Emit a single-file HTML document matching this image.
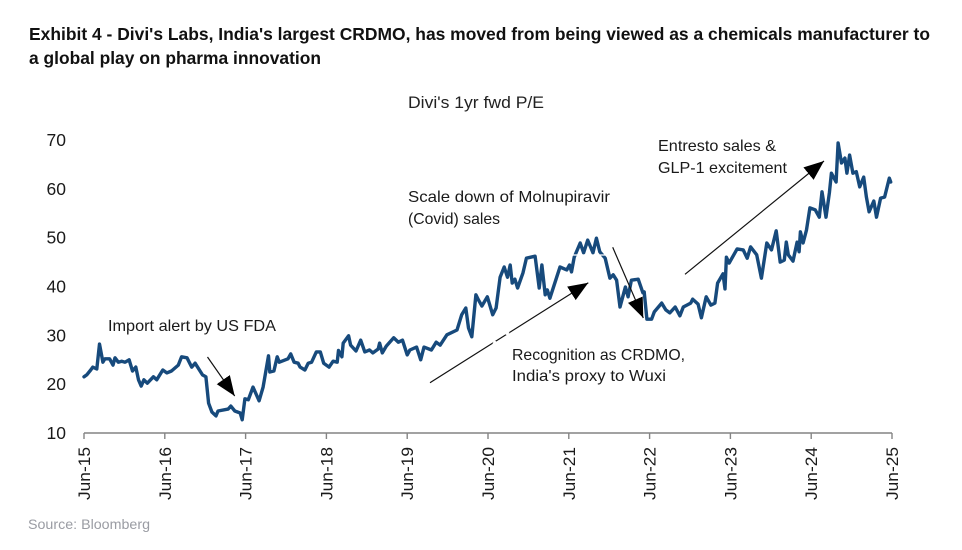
<!DOCTYPE html>
<html lang="en">
<head>
<meta charset="utf-8">
<title>Divi's 1yr fwd P/E</title>
<style>
html,body{margin:0;padding:0;background:#fff;}
body{width:962px;height:550px;overflow:hidden;}
svg{display:block;}
text{font-family:"Liberation Sans",sans-serif;}
</style>
</head>
<body>
<svg id="chart" xmlns="http://www.w3.org/2000/svg" width="962" height="550" viewBox="0 0 962 550">
  <rect x="0" y="0" width="962" height="550" fill="#ffffff"/>
  <g font-size="17.6" font-weight="bold" fill="#111111">
    <text x="29" y="40" textLength="901" lengthAdjust="spacingAndGlyphs">Exhibit 4 - Divi's Labs, India's largest CRDMO, has moved from being viewed as a chemicals manufacturer to</text>
    <text x="29" y="64" textLength="292" lengthAdjust="spacingAndGlyphs">a global play on pharma innovation</text>
  </g>
  <text x="408" y="108" font-size="16.5" fill="#222222" textLength="136" lengthAdjust="spacingAndGlyphs">Divi's 1yr fwd P/E</text>

  <g id="axes"></g>
  <g id="series"></g>

  <g stroke="#ffffff" fill="none">
    <line x1="573" y1="255" x2="607" y2="255" stroke-width="1.3" stroke-dasharray="6 3"/>
    <line x1="527" y1="254" x2="535" y2="254" stroke-width="1"/>
  </g>

  <defs>
    <marker id="arrow-head" markerUnits="userSpaceOnUse" markerWidth="22" markerHeight="18" refX="20" refY="8" orient="auto">
      <path d="M0 0 L20 8 L0 16 Z" fill="#000000"/>
    </marker>
  </defs>
  <g stroke="#111111" stroke-width="1.2" fill="none">
    <line x1="207.5" y1="357" x2="234.7" y2="396" marker-end="url(#arrow-head)"/>
    <line x1="430" y1="382.7" x2="588.3" y2="282.7" marker-end="url(#arrow-head)"/>
    <line x1="612.7" y1="247.3" x2="643.3" y2="318" marker-end="url(#arrow-head)"/>
    <line x1="685" y1="274.3" x2="824" y2="161" marker-end="url(#arrow-head)"/>
  </g>
  <g stroke="#ffffff" stroke-width="2.4">
    <line x1="493.5" y1="344" x2="495.5" y2="341"/>
    <line x1="506.5" y1="335" x2="508.5" y2="332"/>
  </g>

  <g font-size="16" fill="#1a1a1a">
    <text x="108" y="331" textLength="168" lengthAdjust="spacingAndGlyphs">Import alert by US FDA</text>
    <text x="408" y="202" textLength="202" lengthAdjust="spacingAndGlyphs">Scale down of Molnupiravir</text>
    <text x="408" y="224" textLength="92" lengthAdjust="spacingAndGlyphs">(Covid) sales</text>
    <text x="512" y="360" textLength="173" lengthAdjust="spacingAndGlyphs">Recognition as CRDMO,</text>
    <text x="512" y="381" textLength="154" lengthAdjust="spacingAndGlyphs">India's proxy to Wuxi</text>
    <text x="658" y="151" textLength="118" lengthAdjust="spacingAndGlyphs">Entresto sales &amp;</text>
    <text x="658" y="173" textLength="129" lengthAdjust="spacingAndGlyphs">GLP-1 excitement</text>
  </g>

  <text x="28" y="529" font-size="14" fill="#9a9ca3" textLength="122" lengthAdjust="spacingAndGlyphs">Source: Bloomberg</text>
</svg>
<script>
// Months elapsed since Jun-15 for each reading
var months = [0,0.4,1,1.3,1.9,2.3,2.8,3.1,3.8,4.3,4.6,5.1,5.6,6.1,6.7,7.2,7.7,8.1,8.5,8.9,9.4,10.3,10.8,11.7,12.3,13,14,14.5,15.3,16,16.5,17.6,18.1,18.5,19,19.6,19.9,21.4,21.8,22.4,23.2,23.5,23.9,24.4,25.1,26,26.6,27.4,27.6,28.2,28.7,29,30.3,30.7,31.2,31.8,32.1,32.8,33.3,33.8,34.5,35.1,35.6,36.4,37,37.6,37.8,38.3,38.5,39.3,39.6,40.4,41.1,41.7,42.4,42.9,43.7,43.9,44.3,44.9,46,46.7,47.3,48,48.4,49.4,50,50.5,51.6,52.3,52.9,53.9,55.4,56.1,56.7,57.1,57.6,58.2,58.6,59.1,59.9,60.7,61.2,61.8,62.4,62.9,63.3,63.6,64,64.4,65.2,65.7,67,67.6,68,68.5,68.8,69.2,70.2,70.7,71.7,72.1,72.4,72.8,73.7,74.2,74.8,75.6,76.1,76.6,77.4,78.1,78.6,79.1,79.6,80.4,80.8,81.3,82.3,83,83.2,83.6,84.3,84.7,85.8,86.4,87,87.8,88.5,89,90.1,90.4,91.2,91.7,92.4,93.1,93.7,94.1,94.9,95.2,95.4,95.8,96.5,97,97.9,98.5,99,99.9,100.6,101.4,102.1,102.8,103.4,104,104.3,104.6,105.3,105.9,106.2,106.4,106.8,107.3,107.8,108.6,109.2,109.6,110.2,110.7,111,111.7,112,112.5,113,113.3,113.7,114.2,114.7,115.2,115.8,116.2,116.6,117.3,117.7,118.3,118.9,119.6,119.8];
// 1yr forward P/E readings
var peValues = [21.5,21.9,22.9,23.5,23.1,28.2,24.5,25.2,25.2,23.9,25.4,24.5,24.7,24.5,25,22.7,23.5,20.9,19.6,20.9,20.2,21.5,20.9,22.9,22.3,22.7,23.9,25.6,25.4,23.5,24.3,21.9,21.5,16.1,14.3,13.5,14.5,14.9,15.5,14.5,14.1,12.7,17,16.8,19.4,16.6,19.4,25.8,22.5,22.7,25.6,24.5,25.2,26.2,24.5,24.3,23.5,22.9,24.3,24.5,26.6,26.6,24.3,23.5,24.7,24.5,26.9,25.6,28.4,29.9,28,26.8,29,26.6,27,26.4,27.2,28.4,26.4,27.8,29.5,28.6,29,26,27,27.6,25,27.6,27,28.6,28,30.1,31.1,34.2,35.6,31.5,29.7,38.3,37.2,36,37.9,34.2,35.6,41.9,44,41.9,44.4,40.7,41.5,39.7,42.8,45.8,46.2,39.7,44.4,38.3,39.3,37.6,41.9,44,43.4,44.4,43,46,48.9,46.9,49.5,46.9,49.9,47.1,45.8,41.7,42.4,41.3,35.8,39.9,37.9,41.3,41.5,38.7,38.9,33.3,33.3,34.8,36.6,35.2,34.6,35.8,34,35.8,36.6,37.4,36.4,33.6,37.9,36.2,36.6,40.7,42.6,39.5,46,44.8,46.5,47.7,47.5,45.8,48.1,46.5,41.7,48.9,47.5,51.4,45,45.4,49.1,46.5,45.2,49.1,47.1,51.2,48.9,51.6,56.1,55.7,54.2,59.4,54.2,59.2,63.2,61.4,69.4,65.3,66.3,63.2,66.9,63.2,63.5,60.4,62.4,58.3,55.3,57.5,54.2,58.1,58.3,62.2,61.4];
// Axis tick values and labels
var yTicks = [10,20,30,40,50,60,70];
var xTickMonths = [0,12,24,36,48,60,72,84,96,108,120];
var xTickLabels = ["Jun-15","Jun-16","Jun-17","Jun-18","Jun-19","Jun-20","Jun-21","Jun-22","Jun-23","Jun-24","Jun-25"];

var NS = "http://www.w3.org/2000/svg";
function xScale(m) { return 84 + (892 - 84) * m / 120; }
function yScale(v) { return 433 - (433 - 140) * (v - 10) / 60; }

var axes = document.getElementById("axes");
var seriesLayer = document.getElementById("series");

var baseline = document.createElementNS(NS, "line");


baseline.setAttribute("x1", xScale(0));
baseline.setAttribute("x2", xScale(120));
baseline.setAttribute("y1", yScale(10));
baseline.setAttribute("y2", yScale(10));
baseline.setAttribute("stroke", "#848484");
baseline.setAttribute("stroke-width", "1.4");
axes.appendChild(baseline);

xTickMonths.forEach(function (m, i) {
  var x = xScale(m);
  var tick = document.createElementNS(NS, "line");
  
  
  tick.setAttribute("x1", x);
  tick.setAttribute("x2", x);
  tick.setAttribute("y1", yScale(10));
  tick.setAttribute("y2", yScale(10) + 6);
  tick.setAttribute("stroke", "#848484");
  tick.setAttribute("stroke-width", "1.4");
  axes.appendChild(tick);

  var label = document.createElementNS(NS, "text");
  
  
  label.setAttribute("transform", "translate(" + (x + 6) + ",500) rotate(-90)");
  label.setAttribute("font-size", "16.5");
  label.setAttribute("fill", "#1a1a1a");
  label.setAttribute("textLength", "53");
  label.setAttribute("lengthAdjust", "spacingAndGlyphs");
  label.textContent = xTickLabels[i];
  axes.appendChild(label);
});

yTicks.forEach(function (v) {
  var label = document.createElementNS(NS, "text");
  
  
  label.setAttribute("x", "66");
  label.setAttribute("y", yScale(v) + 6);
  label.setAttribute("text-anchor", "end");
  label.setAttribute("font-size", "17.5");
  label.setAttribute("fill", "#1a1a1a");
  label.textContent = String(v);
  axes.appendChild(label);
});

var d = months.map(function (m, i) {
  return (i ? "L" : "M") + xScale(m).toFixed(1) + " " + yScale(peValues[i]).toFixed(1);
}).join(" ");
var line = document.createElementNS(NS, "path");


line.setAttribute("d", d);
line.setAttribute("fill", "none");
line.setAttribute("stroke", "#174a7c");
line.setAttribute("stroke-width", "3.4");
line.setAttribute("stroke-linejoin", "round");
line.setAttribute("stroke-linecap", "round");
seriesLayer.appendChild(line);
</script>
</body>
</html>
